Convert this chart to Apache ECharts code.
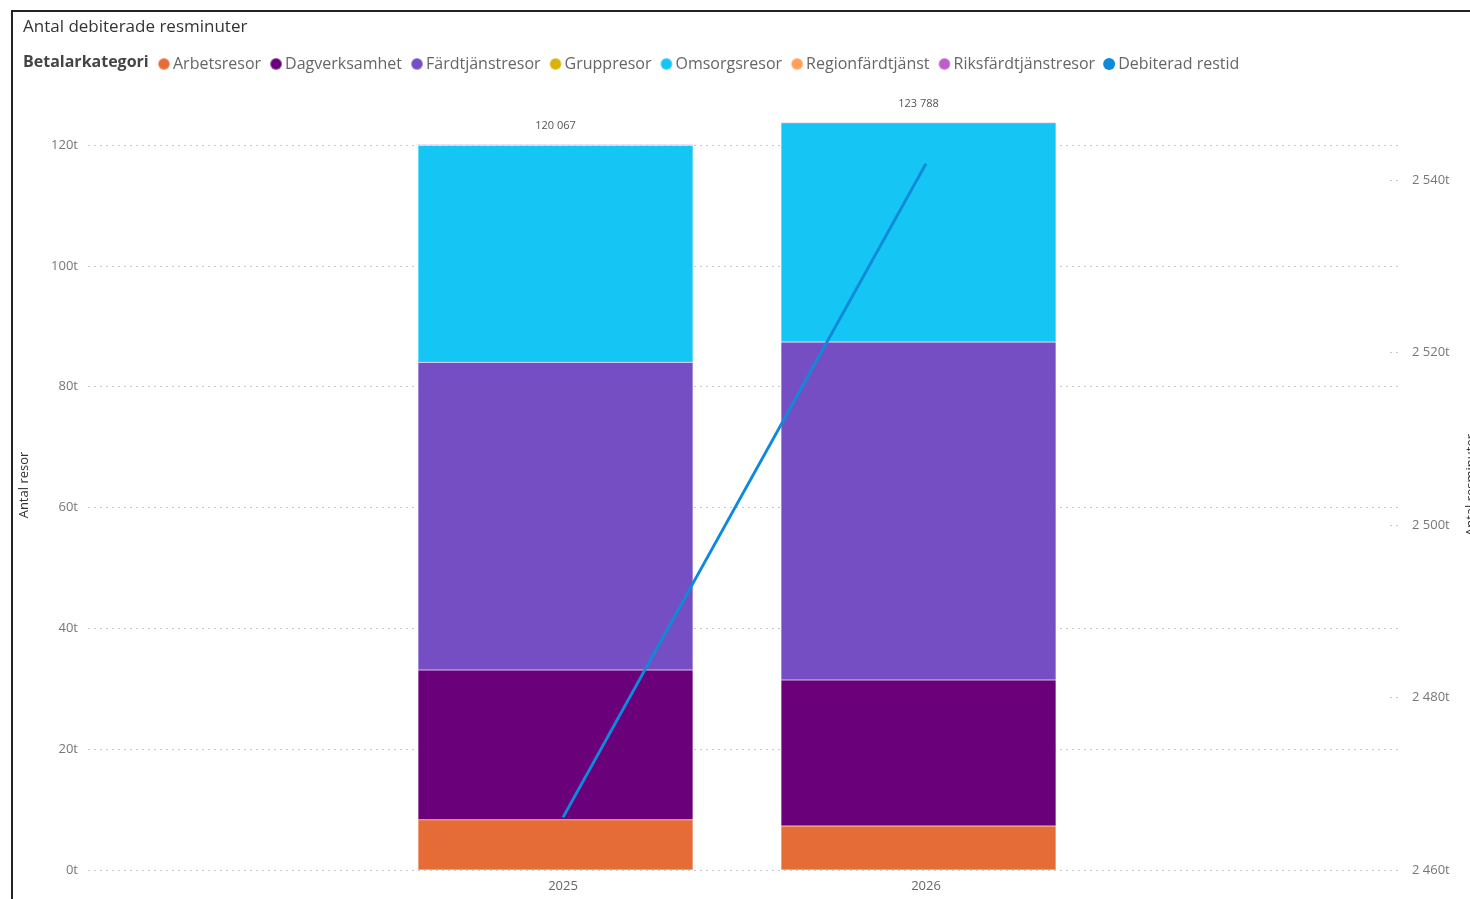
<!DOCTYPE html>
<html><head><meta charset="utf-8">
<script src="https://cdn.jsdelivr.net/npm/echarts@6/dist/echarts.min.js"></script>
<style>html,body{margin:0;padding:0;background:#fff;overflow:hidden}
#chart{position:absolute;left:0;top:0;width:1470px;height:899px}
#frame{position:absolute;left:11px;top:10px;width:1470px;height:900px;border-left:2px solid #222;border-top:2px solid #222;pointer-events:none}
</style></head><body><div id="chart"></div><div id="frame"></div>
<script>
const years = [2025, 2026];
const arbetsresor = [8300, 7300];
const dagverksamhet = [24800, 24150];
const fardtjanstresor = [50950, 55950];
const gruppresor = [5, 5];
const omsorgsresor = [35900, 36280];
const regionfardtjanst = [12, 8];
const riksfardtjanstresor = [100, 95];
const totals = [120067, 123788];
const debiteradRestid = [2466100, 2541900];

const barSeries = [
  ['Arbetsresor', arbetsresor, '#E66C37'],
  ['Dagverksamhet', dagverksamhet, '#6B007B'],
  ['Färdtjänstresor', fardtjanstresor, '#744EC2'],
  ['Gruppresor', gruppresor, '#D9B300'],
  ['Omsorgsresor', omsorgsresor, '#15C6F4'],
  ['Regionfärdtjänst', regionfardtjanst, '#FFA058'],
  ['Riksfärdtjänstresor', riksfardtjanstresor, '#BE5DC9']
];
const lineColor = '#0F8ADB';

function fmtT(v){ return String(Math.round(v/1000)).replace(/\B(?=(\d{3})+(?!\d))/g,' ') + 't'; }
function fmtN(v){ return String(v).replace(/\B(?=(\d{3})+(?!\d))/g,' '); }

const FONT = "'Open Sans', 'Noto Sans', sans-serif";
const pxPerYear = 363, gridL = 88, gridR = 1398, firstX = 563, gridTop = 100, gridBottom = 29;
const xMin = years[0] - (firstX - gridL)/pxPerYear;
const xMax = years[0] + (gridR - firstX)/pxPerYear;
const barCenter0 = firstX - 7.5;
const barGridLeft = barCenter0 - pxPerYear/2;
const leftMax = 127448, rightMin = 2460000, rightMax = 2549275;

const series = barSeries.map(([name, vals, color], i) => ({
  name, type: 'bar', stack: 'total', xAxisIndex: 1, yAxisIndex: 2,
  barWidth: 275,
  itemStyle: { color, borderColor: 'rgba(255,255,255,0.35)', borderWidth: 0.5 },
  data: vals,
  label: i === barSeries.length - 1 ? {
    show: true, position: 'top', distance: 13, color: '#555', fontSize: 11, fontFamily: FONT,
    formatter: p => fmtN(totals[p.dataIndex])
  } : { show: false },
  emphasis: { disabled: true }
}));
series.push({
  name: 'Debiterad restid', type: 'line', xAxisIndex: 0, yAxisIndex: 1,
  data: years.map((y, j) => [y, debiteradRestid[j]]),
  showSymbol: false, symbol: 'none',
  lineStyle: { color: lineColor, width: 3 }, itemStyle: { color: lineColor }, z: 5
});

const chart = echarts.init(document.getElementById('chart'));
chart.setOption({
  animation: false,
  title: [
    { text: 'Antal debiterade resminuter', left: 23, top: 19, padding: 0,
      textStyle: { fontFamily: FONT, fontSize: 17, fontWeight: 'normal', color: '#333' } },
    { text: 'Betalarkategori', left: 23, top: 54, padding: 0,
      textStyle: { fontFamily: FONT, fontSize: 16, fontWeight: 'bold', color: '#444' } }
  ],
  legend: {
    left: 157, top: 56, padding: 0, itemGap: 8, icon: 'circle', itemWidth: 12, itemHeight: 12,
    textStyle: { fontFamily: FONT, fontSize: 16, color: '#666', padding: [0,0,0,-2] },
    data: barSeries.map(s => s[0]).concat(['Debiterad restid'])
  },
  grid: [
    { left: gridL, right: 1470 - gridR, top: gridTop, bottom: gridBottom, containLabel: false, outerBoundsMode: 'none' },
    { left: barGridLeft, width: pxPerYear * years.length, top: gridTop, bottom: gridBottom, containLabel: false, outerBoundsMode: 'none' }
  ],
  xAxis: [
    { type: 'value', gridIndex: 0, min: xMin, max: xMax,
      axisLine: { show: false }, axisTick: { show: false }, splitLine: { show: false },
      axisLabel: { customValues: years, formatter: v => String(Math.round(v)), color: '#666', fontSize: 13, fontFamily: FONT, margin: 10 } },
    { type: 'category', gridIndex: 1, data: years.map(String), show: false }
  ],
  yAxis: [
    { type: 'value', gridIndex: 0, min: 0, max: leftMax, interval: 20000, position: 'left',
      name: 'Antal resor', nameLocation: 'middle', nameGap: 57, nameRotate: 90,
      nameTextStyle: { fontFamily: FONT, fontSize: 13, color: '#333' },
      axisLine: { show: false }, axisTick: { show: false },
      axisLabel: { formatter: fmtT, color: '#777', fontSize: 13, fontFamily: FONT, margin: 10, showMaxLabel: false },
      splitLine: { show: true, showMaxLine: false, lineStyle: { type: [2, 4], color: '#c8c8c8', width: 1 } } },
    { type: 'value', gridIndex: 0, min: rightMin, max: rightMax, interval: 20000, position: 'right',
      name: 'Antal resminuter', nameLocation: 'middle', nameGap: 67, nameRotate: 90,
      nameTextStyle: { fontFamily: FONT, fontSize: 13, color: '#333' },
      axisLine: { show: false },
      axisTick: { show: true, inside: true, length: 8, lineStyle: { type: [2, 4], color: '#c8c8c8' } },
      axisLabel: { formatter: fmtT, color: '#777', fontSize: 13, fontFamily: FONT, margin: 14, showMaxLabel: false },
      splitLine: { show: false } },
    { type: 'value', gridIndex: 1, min: 0, max: leftMax, show: false }
  ],
  series
});
</script></body></html>
